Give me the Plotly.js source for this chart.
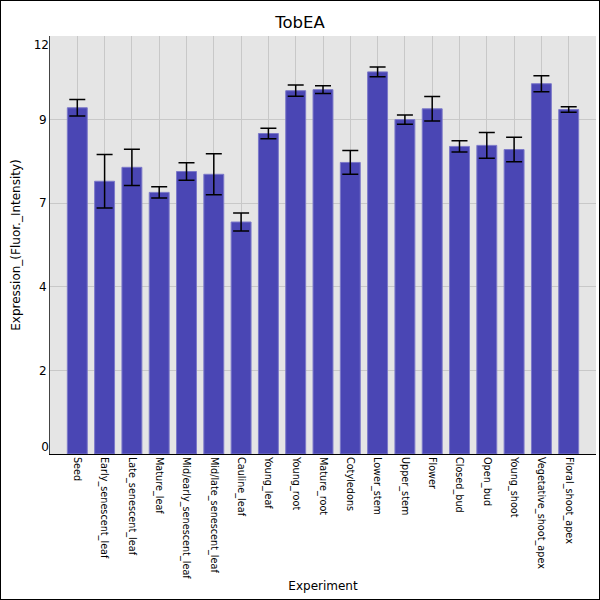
<!DOCTYPE html>
<html>
<head>
<meta charset="utf-8">
<script src="https://cdn.plot.ly/plotly-3.0.1.min.js"></script>
<style>
  body { margin: 0; background: #fff; }
  #chart { position: absolute; left: 0; top: 0; width: 598px; height: 598px; border: 1px solid #000; }
</style>
</head>
<body>
<div id="chart"></div>
<script>
// tissues, in plot order
var experiments = ["Seed", "Early_senescent_leaf", "Late_senescent_leaf", "Mature_leaf",
  "Mid/early_senescent_leaf", "Mid/late_senescent_leaf", "Cauline_leaf", "Young_leaf",
  "Young_root", "Mature_root", "Cotyledons", "Lower_stem", "Upper_stem", "Flower",
  "Closed_bud", "Open_bud", "Young_shoot", "Vegetative_shoot_apex", "Floral_shoot_apex"];

var expression = [9.94, 7.83, 8.23, 7.51, 8.11, 8.03, 6.66, 9.20, 10.43, 10.46,
  8.37, 10.97, 9.60, 9.91, 8.83, 8.86, 8.74, 10.63, 9.89];

var errors = [0.24, 0.77, 0.52, 0.16, 0.25, 0.59, 0.26, 0.15, 0.16, 0.11,
  0.34, 0.14, 0.13, 0.35, 0.16, 0.37, 0.35, 0.23, 0.08];

// y ticks are shown truncated, as in the original
var yTickVals = [0, 2.4, 4.8, 7.2, 9.6, 12];
var yTickText = ["", "2", "4", "7", "9", ""];
// end labels sit a little inside the plot in the original
var yEndVals = [0.2, 11.74];
var yEndText = ["0", "12"];

var trace = {
  x: experiments,
  y: expression,
  type: 'bar',
  width: 0.73,
  marker: {color: '#4a46b4', line: {color: '#7c79c9', width: 1}},
  error_y: {type: 'data', array: errors, visible: true, color: '#000', thickness: 1.5, width: 8}
};

// empty trace so the overlay axis with the end labels gets drawn
var endLabels = {x: [], y: [], type: 'scatter', yaxis: 'y2', hoverinfo: 'skip'};

var layout = {
  width: 598,
  height: 598,
  margin: {l: 49, r: 3, t: 35, b: 145},
  paper_bgcolor: '#fff',
  plot_bgcolor: '#e5e5e5',
  font: {family: 'DejaVu Sans', size: 12, color: '#000'},
  title: {text: 'TobEA', font: {size: 16.5}, x: 0.5, xanchor: 'center', y: 0.965, yanchor: 'middle'},
  showlegend: false,
  bargap: 0,
  xaxis: {
    title: {text: 'Experiment', font: {size: 12}, standoff: 3},
    range: [-1, 19],
    tickangle: 90,
    tickfont: {size: 9.7},
    showgrid: true,
    gridcolor: '#c8c8c8',
    showline: true,
    linecolor: '#000',
    linewidth: 1,
    ticks: '',
    fixedrange: true
  },
  yaxis: {
    title: {text: 'Expression_(Fluor._Intensity)', font: {size: 12}, standoff: 15},
    range: [0, 12],
    tickvals: yTickVals,
    ticktext: yTickText,
    gridcolor: '#c8c8c8',
    showline: true,
    linecolor: '#444',
    linewidth: 1,
    zeroline: false,
    ticks: '',
    ticklen: 0
  },
  yaxis2: {
    overlaying: 'y',
    side: 'left',
    range: [0, 12],
    tickvals: yEndVals,
    ticktext: yEndText,
    showgrid: false,
    zeroline: false,
    showline: false,
    ticks: ''
  }
};

Plotly.newPlot('chart', [trace, endLabels], layout, {displayModeBar: false, staticPlot: true});
</script>
</body>
</html>
